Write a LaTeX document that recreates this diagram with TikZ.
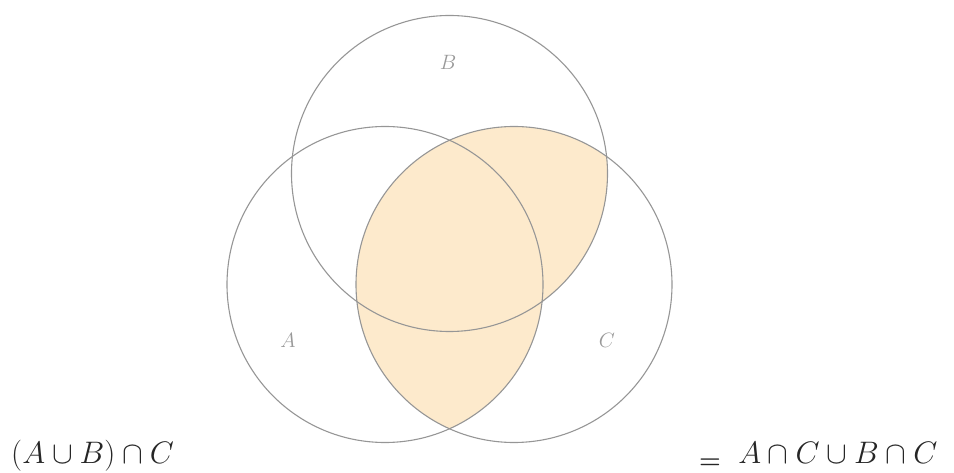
\documentclass[tikz,border=0pt]{standalone}
\usepackage{amsmath}
\definecolor{vennfill}{RGB}{253,234,204}
\definecolor{ring}{RGB}{150,150,150}
\begin{document}
\begin{tikzpicture}[x=1pt,y=-1pt,
  circ/.style={draw=ring, line width=1.1pt},
  lbl/.style={text=black!40, font=\huge},
  formula/.style={text=black!85, font=\Huge, scale=1.25, anchor=base west, inner sep=0pt}]
\useasboundingbox (0,0) rectangle (954,473);
\coordinate (cA) at (385,284.5);
\coordinate (cB) at (449.5,173.5);
\coordinate (cC) at (514,284.5);
\def\rr{158}
% shaded region (A u B) n C
\begin{scope}
  \clip (cC) circle (\rr);
  \fill[vennfill] (cA) circle (\rr);
  \fill[vennfill] (cB) circle (\rr);
\end{scope}
\draw[circ] (cA) circle (\rr);
\draw[circ] (cB) circle (\rr);
\draw[circ] (cC) circle (\rr);
\node[lbl] (la) at (288,340) {$A$};
\node[lbl] (lb) at (448,62) {$B$};
\node[lbl] (lc) at (607,340) {$C$};
\node[formula] (lhs) at (11,463) {$(A\cup B)\cap C$};
\node[text=black!85, font=\Huge\bfseries, anchor=base west, inner sep=0pt] (eq) at (699,468) {=};
\node[formula] (rhs) at (738,463) {$A\cap C\cup B\cap C$};
\end{tikzpicture}
\end{document}
